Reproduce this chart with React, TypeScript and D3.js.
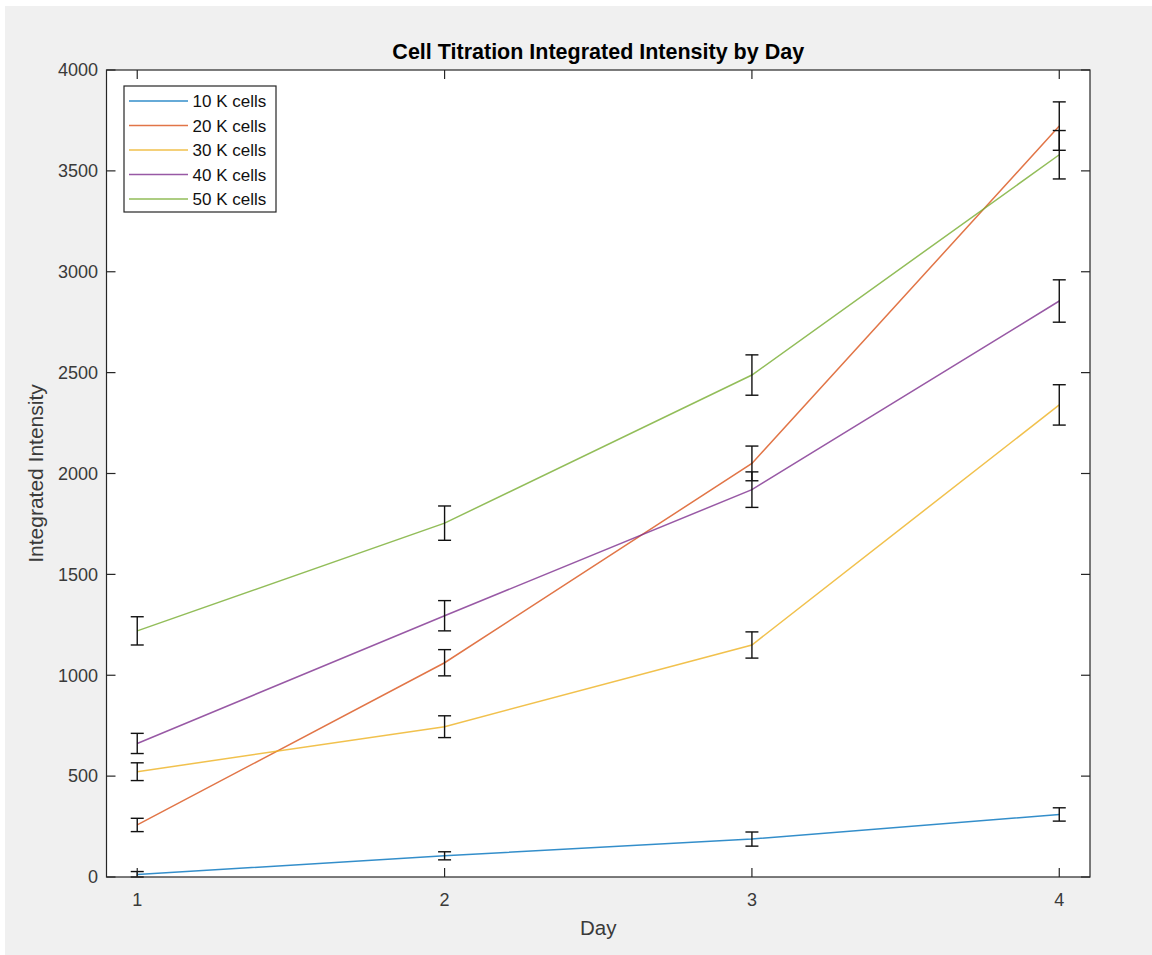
import React from "react";
import * as d3 from "d3";

const days = [1, 2, 3, 4];
const seriesNames = ["10 K cells", "20 K cells", "30 K cells", "40 K cells", "50 K cells"];
const colors = ["#0072BD", "#D95319", "#EDB120", "#7E2F8E", "#77AC30"];
const means10 = [12, 105, 188, 310];
const means20 = [258, 1062, 2050, 3722];
const means30 = [522, 745, 1150, 2340];
const means40 = [662, 1295, 1920, 2855];
const means50 = [1220, 1754, 2488, 3580];
const err10 = [15, 20, 35, 33];
const err20 = [33, 65, 86, 120];
const err30 = [44, 54, 65, 100];
const err40 = [50, 75, 88, 105];
const err50 = [70, 85, 100, 120];
const yTicks = [0, 500, 1000, 1500, 2000, 2500, 3000, 3500, 4000];
const xTicks = [1, 2, 3, 4];

const allMeans = [means10, means20, means30, means40, means50];
const allErr = [err10, err20, err30, err40, err50];

export default function App() {
  const W = 1152, H = 955;
  const left = 106.5, right = 1090, top = 70, bottom = 877;
  const x = d3.scaleLinear().domain([0.9, 4.1]).range([left, right]);
  const y = d3.scaleLinear().domain([0, 4000]).range([bottom, top]);
  const line = d3.line<number>().x((_, i) => x(days[i])).y((v) => y(v));
  const axisColor = "#262626";
  const textColor = "#3a3a3a";
  const tickLen = 9;
  const font = "Arial, 'Liberation Sans', Helvetica, sans-serif";
  const capW = 6.5;

  return (
    <svg width={W} height={H} style={{ position: "absolute", left: 0, top: 0, display: "block" }} fontFamily={font}>
      <rect x={0} y={0} width={W} height={H} fill="#ffffff" />
      <rect x={5} y={6} width={W - 5} height={H - 6} fill="#f0f0f0" />
      <rect x={left} y={top} width={right - left} height={bottom - top} fill="#ffffff" />

      {/* series lines */}
      {allMeans.map((m, si) => (
        <path key={si} d={line(m) || ""} fill="none" stroke={colors[si]} strokeOpacity={0.8} strokeWidth={1.5} />
      ))}

      {/* error bars */}
      {allMeans.map((m, si) =>
        m.map((v, i) => {
          const cx = x(days[i]);
          const y1 = y(v + allErr[si][i]);
          const y0 = y(Math.max(v - allErr[si][i], 0));
          return (
            <g key={`${si}-${i}`} stroke="#111111" strokeWidth={1.4}>
              <line x1={cx} x2={cx} y1={y1} y2={y0} />
              <line x1={cx - capW} x2={cx + capW} y1={y1} y2={y1} />
              <line x1={cx - capW} x2={cx + capW} y1={y0} y2={y0} />
            </g>
          );
        })
      )}

      {/* axes box */}
      <rect x={left} y={top} width={right - left} height={bottom - top} fill="none" stroke={axisColor} strokeWidth={1.2} />

      {/* x ticks */}
      {xTicks.map((t) => (
        <g key={`xt${t}`}>
          <line x1={x(t)} x2={x(t)} y1={bottom} y2={bottom - tickLen} stroke={axisColor} strokeWidth={1.2} />
          <line x1={x(t)} x2={x(t)} y1={top} y2={top + tickLen} stroke={axisColor} strokeWidth={1.2} />
          <text x={x(t)} y={906} textAnchor="middle" fontSize={18} fill={textColor}>{t}</text>
        </g>
      ))}

      {/* y ticks */}
      {yTicks.map((t) => (
        <g key={`yt${t}`}>
          <line x1={left} x2={left + tickLen} y1={y(t)} y2={y(t)} stroke={axisColor} strokeWidth={1.2} />
          <line x1={right} x2={right - tickLen} y1={y(t)} y2={y(t)} stroke={axisColor} strokeWidth={1.2} />
          <text x={98} y={y(t)} dy="0.35em" textAnchor="end" fontSize={18} fill={textColor}>{t}</text>
        </g>
      ))}

      {/* title & labels */}
      <text x={(left + right) / 2} y={59} textAnchor="middle" fontSize={21.5} fontWeight="bold" fill="#000000">
        Cell Titration Integrated Intensity by Day
      </text>
      <text x={(left + right) / 2} y={935} textAnchor="middle" fontSize={20.5} fill={textColor}>Day</text>
      <text transform={`translate(43, ${(top + bottom) / 2}) rotate(-90)`} textAnchor="middle" fontSize={21} fill={textColor}>
        Integrated Intensity
      </text>

      {/* legend */}
      <rect x={124} y={86} width={152} height={126} fill="#ffffff" stroke={axisColor} strokeWidth={1.2} />
      {seriesNames.map((n, i) => {
        const ly = 101 + i * 24.5;
        return (
          <g key={n}>
            <line x1={129} x2={188} y1={ly} y2={ly} stroke={colors[i]} strokeOpacity={0.8} strokeWidth={1.5} />
            <text x={192.5} y={ly} dy="0.36em" fontSize={17} fill="#111111">{n}</text>
          </g>
        );
      })}
    </svg>
  );
}
